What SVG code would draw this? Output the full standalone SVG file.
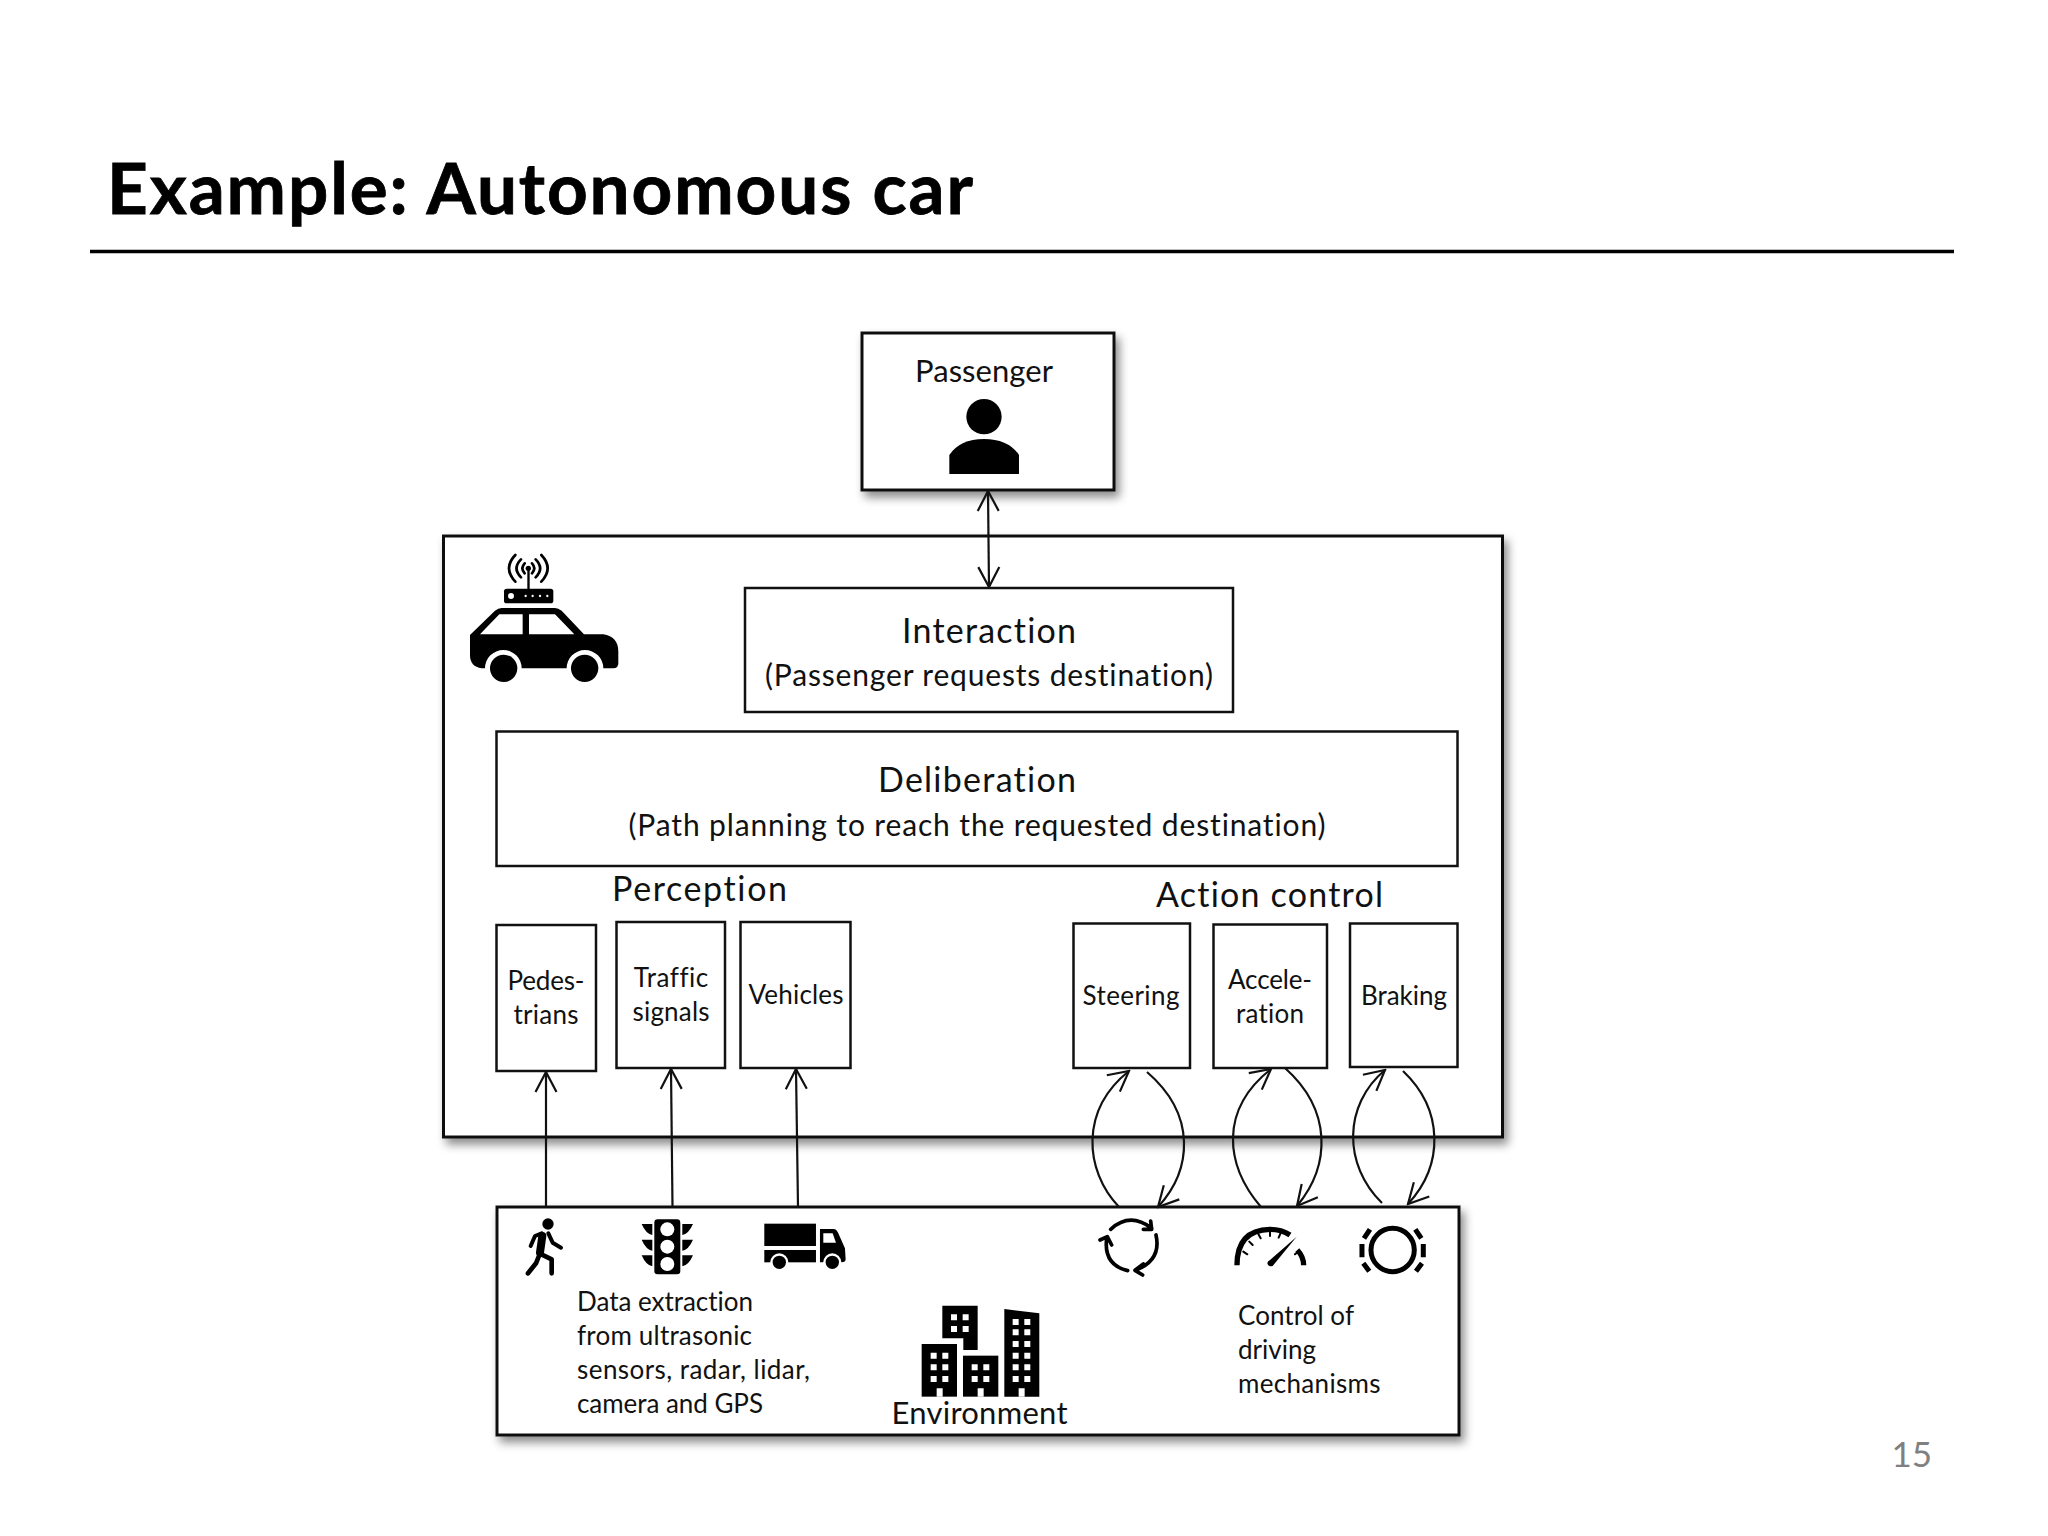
<svg xmlns="http://www.w3.org/2000/svg" width="2048" height="1536" viewBox="0 0 2048 1536">
<style>
text{font-family:"Lato","Liberation Sans",sans-serif;fill:#111;font-variant-ligatures:none}
.box{fill:#fff;stroke:#111;stroke-width:2.5}
.sh{filter:url(#ds);stroke-width:3}
.c{text-anchor:middle}
.f27{font-size:26px}.f33{font-size:34px}.f30{font-size:30px}
.ln{fill:none;stroke:#111;stroke-width:2.2}
.ic{fill:#000}
.st{fill:none;stroke:#000;stroke-linecap:round;stroke-linejoin:round}
.w{fill:#fff}
</style>
<defs>
<filter id="ds" x="-10%" y="-10%" width="120%" height="125%"><feDropShadow dx="4" dy="6" stdDeviation="5" flood-color="#000" flood-opacity=".45"/></filter>
<marker id="a" viewBox="-22 -12 24 24" refX="0" refY="0" markerWidth="24" markerHeight="24" markerUnits="userSpaceOnUse" orient="auto-start-reverse"><path d="M-20,-10.5L0,0L-20,10.5" fill="none" stroke="#111" stroke-width="2.2"/></marker>
</defs>
<rect width="2048" height="1536" fill="#fff"/>
<g id="title"><text x="107" y="214" font-size="71" font-weight="700" textLength="866" style="fill:#000;stroke:#000;stroke-width:.8">Example: Autonomous car</text><line x1="90" y1="251.5" x2="1954" y2="251.5" stroke="#000" stroke-width="3.5"/></g>
<g id="vehicle"><rect class="box sh" x="443.5" y="536" width="1059" height="601"/>
<g transform="translate(440,520) scale(.3333)">
<path class="ic" d="M90,345L165,272Q175,264 185,264L345,264Q355,264 365,272L432,343L490,343Q535,350 535,395L535,430Q535,445 520,445L490,445A55,55 0 0 0 380,445L245,445A55,55 0 0 0 135,445L125,445Q90,440 90,405Z"/>
<path class="w" d="M120,343L178,283L248,283L248,343Z M267,283L345,283L403,343L267,343Z"/>
<circle class="ic" cx="191" cy="445" r="41"/><circle class="ic" cx="434" cy="445" r="41"/>
<rect class="ic" x="192" y="206" width="148" height="44" rx="8"/><circle class="w" cx="213" cy="228" r="9"/>
<circle class="w" cx="257" cy="228" r="3.5"/><circle class="w" cx="278" cy="228" r="3.5"/><circle class="w" cx="300" cy="228" r="3.5"/><circle class="w" cx="322" cy="228" r="3.5"/>
<rect class="ic" x="262" y="145" width="7" height="62"/><circle class="ic" cx="265" cy="145" r="8"/>
<path class="st" stroke-width="8" d="M226,105Q188,145 226,185M243,118Q216,145 243,172M254,130Q240,145 254,160M304,105Q342,145 304,185M287,118Q314,145 287,172M276,130Q290,145 276,160"/>
</g></g>
<g id="passenger"><rect class="box sh" x="862" y="333" width="252" height="157"/><text class="c" x="984" y="382" font-size="31" textLength="138">Passenger</text>
<g transform="translate(860,320) scale(.3333)"><circle class="ic" cx="372" cy="290" r="53"/><path class="ic" d="M268,462L268,405Q300,357 372,357Q445,357 477,405L477,462Z"/></g></g>
<g id="interaction"><rect class="box" x="745" y="588" width="488" height="124"/><text class="c f33" x="989" y="643" textLength="174">Interaction</text><text class="c f30" x="989" y="686" textLength="448">(Passenger requests destination)</text></g>
<g id="deliberation"><rect class="box" x="496.500" y="731.500" width="961" height="134.500"/><text class="c f33" x="977" y="792" textLength="198">Deliberation</text><text class="c f30" x="977" y="835.500" textLength="697">(Path planning to reach the requested destination)</text></g>
<g id="perception-label"><text x="612" y="901" class="f33" textLength="175">Perception</text></g>
<g id="action-label"><text x="1156" y="907" class="f33" textLength="227">Action control</text></g>
<g id="pedestrians"><rect class="box" x="496.500" y="925" width="99.500" height="146"/><text class="c f27" x="546" y="990" textLength="77">Pedes-</text><text class="c f27" x="546" y="1024" textLength="65">trians</text></g>
<g id="traffic"><rect class="box" x="616.500" y="922" width="108.500" height="146"/><text class="c f27" x="671" y="987" textLength="74.500">Traffic</text><text class="c f27" x="671" y="1021" textLength="77">signals</text></g>
<g id="vehicles"><rect class="box" x="740.500" y="922" width="110" height="146"/><text class="c f27" x="796" y="1004" textLength="95">Vehicles</text></g>
<g id="steering"><rect class="box" x="1073.500" y="923.500" width="116.500" height="144.500"/><text class="c f27" x="1131" y="1005" textLength="97">Steering</text></g>
<g id="acceleration"><rect class="box" x="1213.500" y="924.500" width="113.500" height="143.500"/><text class="c f27" x="1270" y="989" textLength="84">Accele-</text><text class="c f27" x="1270" y="1023" textLength="68">ration</text></g>
<g id="braking"><rect class="box" x="1350" y="923.500" width="107.500" height="143.500"/><text class="c f27" x="1404" y="1005" textLength="86">Braking</text></g>
<g id="environment"><rect class="box sh" x="497" y="1207" width="962" height="228"/>
<text class="f27" x="577" y="1311" textLength="176">Data extraction</text><text class="f27" x="577" y="1345" textLength="175">from ultrasonic</text><text class="f27" x="577" y="1379" textLength="233">sensors, radar, lidar,</text><text class="f27" x="577" y="1413" textLength="186">camera and GPS</text>
<text class="f27" x="1238" y="1325" textLength="116">Control of</text><text class="f27" x="1238" y="1359" textLength="78">driving</text><text class="f27" x="1238" y="1393" textLength="142.500">mechanisms</text>
<text class="c" x="979.500" y="1424" font-size="31" textLength="176">Environment</text>
<g transform="translate(500,1200) scale(.3333)">
<circle class="ic" cx="144" cy="72" r="17"/>
<path class="st" stroke-width="24" d="M127,108L120,158"/>
<path class="st" stroke-width="12" d="M92,138L105,108L125,100M145,100L158,128L183,143"/>
<path class="st" stroke-width="14" d="M118,160L155,178L155,220M118,165L108,190L84,220"/>
<rect class="ic" x="463" y="58" width="78" height="165" rx="10"/>
<circle class="w" cx="502" cy="88" r="21"/><circle class="w" cx="502" cy="140" r="21"/><circle class="w" cx="502" cy="192" r="21"/>
<path class="ic" d="M425,72L457,72L457,105Q438,102 425,72ZM425,119L457,119L457,152Q438,149 425,119ZM425,166L457,166L457,199Q438,196 425,166ZM579,72L547,72L547,105Q566,102 579,72ZM579,119L547,119L547,152Q566,149 579,119ZM579,166L547,166L547,199Q566,196 579,166Z"/>
<rect class="ic" x="793" y="71" width="155" height="67"/><rect class="ic" x="793" y="150" width="155" height="37"/>
<path class="ic" d="M960,87L1000,87Q1010,87 1015,100L1035,145L1037,178Q1037,187 1025,187L960,187Z"/><path class="w" d="M970,100L998,100L1008,128L970,128Z"/>
<circle class="w" cx="838" cy="187" r="27"/><circle class="w" cx="997" cy="187" r="27"/><circle class="ic" cx="838" cy="187" r="20"/><circle class="ic" cx="997" cy="187" r="20"/>
</g>
<g transform="translate(1080,1060) scale(.3333)">
<path class="st" stroke-width="11" d="M92,508Q150,455 215,505M190,508L215,508L212,483M228,525Q245,600 168,630M190,612L165,631L188,645M143,632Q70,615 80,535M60,540L82,530L95,555"/>
<path class="st" stroke-width="16" style="stroke-linecap:butt" d="M471,616Q471,510 570,508Q605,508 630,525M652,570Q671,590 671,616"/>
<path class="st" stroke-width="6" d="M490,575L502,583M508,545L518,555M535,522L542,535M570,513L570,528M602,519L596,533M655,575L645,583"/>
<path class="ic" d="M650,530L578,618Q565,622 562,610Q562,604 570,600Z"/>
<circle cx="938" cy="570" r="65" fill="none" stroke="#000" stroke-width="15"/>
<path class="st" stroke-width="15" style="stroke-linecap:butt" d="M870,508L852,535M846,552L846,592M850,610L868,634M1006,508L1024,535M1030,552L1030,592M1026,610L1008,634"/>
</g>
<g transform="translate(880,1290) scale(.3333)">
<path class="ic" d="M187,47L293,47L293,180L250,180L250,145L187,145Z"/><rect class="ic" x="125" y="162" width="106" height="158"/><rect class="ic" x="249" y="197" width="106" height="123"/><path class="ic" d="M373,57L478,70L478,320L373,320Z"/>
<path class="w" d="M213,73h18v18h-18zM248,73h18v18h-18zM213,108h18v18h-18zM248,108h18v18h-18zM152,188h18v18h-18zM187,188h18v18h-18zM152,223h18v18h-18zM187,223h18v18h-18zM152,258h18v18h-18zM187,258h18v18h-18zM170,295h18v25h-18zM275,223h18v18h-18zM310,223h18v18h-18zM275,258h18v18h-18zM310,258h18v18h-18zM293,295h18v25h-18zM398,87h18v18h-18zM433,87h18v18h-18zM398,118h18v18h-18zM433,118h18v18h-18zM398,153h18v18h-18zM433,153h18v18h-18zM398,188h18v18h-18zM433,188h18v18h-18zM398,223h18v18h-18zM433,223h18v18h-18zM398,258h18v18h-18zM433,258h18v18h-18zM416,295h18v25h-18z"/>
</g></g>
<g id="page"><text x="1932" y="1467" text-anchor="end" font-size="35" style="fill:#808080">15</text></g>
<g id="connectors">
<path class="ln" marker-start="url(#a)" marker-end="url(#a)" d="M988,491L989,587"/>
<path class="ln" marker-end="url(#a)" d="M546,1207L546,1072"/>
<path class="ln" marker-end="url(#a)" d="M672.500,1207L671,1069"/>
<path class="ln" marker-end="url(#a)" d="M798,1207L796,1069"/>
<path class="ln" marker-end="url(#a)" d="M1119,1207C1084,1170 1080,1110 1129,1071"/>
<path class="ln" marker-end="url(#a)" d="M1147,1072C1197,1115 1192,1170 1158,1207"/>
<path class="ln" marker-end="url(#a)" d="M1261,1207C1225,1165 1219,1110 1271,1069"/>
<path class="ln" marker-end="url(#a)" d="M1285,1068C1332,1110 1331,1165 1297,1206"/>
<path class="ln" marker-end="url(#a)" d="M1382,1203C1343,1165 1343,1105 1385,1070"/>
<path class="ln" marker-end="url(#a)" d="M1403,1071C1444,1110 1444,1165 1408,1204"/>
</g>
</svg>
